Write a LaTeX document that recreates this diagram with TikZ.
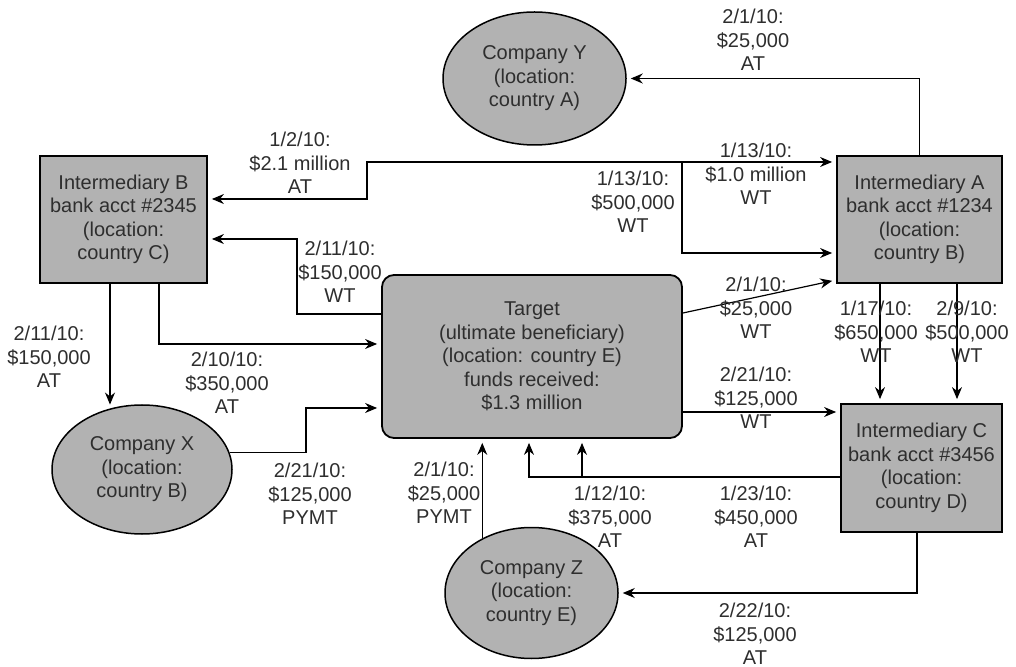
\documentclass[tikz,border=0pt]{standalone}
\usepackage{fontspec}
\setmainfont{Liberation Sans}
\usetikzlibrary{arrows.meta}
\usetikzlibrary{shapes.geometric}

\tikzset{
    >={Stealth[length=6pt, width=5pt]},
    bankbox/.style={draw, fill=black!30, line width=0.9pt, align=center, inner sep=0pt},
    firm/.style={ellipse, draw, fill=black!30, line width=0.75pt, align=center, inner sep=0pt},
    amount/.style={align=center, inner sep=0pt},
    flow/.style={->, shorten >=2pt},
    twoway/.style={<->, shorten >=2pt, shorten <=2pt},
}

\begin{document}
\begin{tikzpicture}[x=0.5pt, y=-0.5pt, line width=0.6pt, font=\fontsize{10}{11.75}\selectfont, text=black!82]

    \useasboundingbox (0,0) rectangle (1016,667);

    % Draw accounts
    \node [bankbox, minimum width=83.5pt, minimum height=63.5pt] (intB) at (123.5,219.5) {Intermediary B\\bank acct \#2345\\(location:\\country C)};
    \node [bankbox, minimum width=82.5pt, minimum height=63.5pt] (intA) at (919.5,219.5) {Intermediary A\\bank acct \#1234\\(location:\\country B)};
    \node [bankbox, minimum width=80.5pt, minimum height=64pt] (intC) at (921.5,468) {Intermediary C\\bank acct \#3456\\(location:\\country D)};
    \node [bankbox, rounded corners=6pt, minimum width=150pt, minimum height=81.5pt] (target) at (532,356.5) {Target\\(ultimate beneficiary)\\(location: country E)\\funds received:\\\$1.3 million};

    % Draw companies
    \node [firm, minimum width=91.5pt, minimum height=66.5pt] (compY) at (534.5,78.5) {Company Y\\(location:\\country A)};
    \node [firm, minimum width=90pt, minimum height=64.5pt] (compX) at (142,469.5) {Company X\\(location:\\country B)};
    \node [firm, minimum width=86.5pt, minimum height=65.5pt] (compZ) at (531.5,593) {Company Z\\(location:\\country E)};

    % Draw bend points
    \coordinate (kinkB) at (367,199);
    \coordinate (kinkA) at (367,162);
    \coordinate (splitA) at (682,162);
    \coordinate (kinkT) at (297,239);
    \coordinate (kinkX) at (306,408);
    \coordinate (bOut1) at ([xshift=-6.75pt]intB.south);
    \coordinate (bOut2) at ([xshift=17.75pt]intB.south);
    \coordinate (aOut1) at ([xshift=-19.75pt]intA.south);
    \coordinate (aOut2) at ([xshift=18.75pt]intA.south);
    \coordinate (tOut1) at ([yshift=21.25pt]target.west);
    \coordinate (tOut2) at ([yshift=21.75pt]target.east);
    \coordinate (tOut3) at ([yshift=-27.75pt]target.east);
    \coordinate (tIn1) at ([xshift=-1.5pt]target.south);
    \coordinate (tIn2) at ([xshift=25pt]target.south);
    \coordinate (cOut1) at ([yshift=-4.5pt]intC.west);
    \coordinate (cOut2) at ([xshift=-2.25pt]intC.south);

    % Draw transfers
    \draw [flow] (intA.north) |- (compY.east);
    \draw [twoway] (intB.east |- kinkB) -- (kinkB) -- (kinkA) -- (intA.west |- kinkA);
    \draw [flow] (splitA) |- ([yshift=-16.75pt]intA.west);
    \draw [flow] (tOut1) -| (kinkT) -- (intB.east |- kinkT);
    \draw [flow] (bOut1) -- (bOut1 |- compX.118);
    \draw [flow] (bOut2) |- ([yshift=6.25pt]target.west);
    \draw [flow] (compX.11) -| (kinkX) -- (target.west |- kinkX);
    \draw [flow] (tOut2) -- ([yshift=-30.25pt]intA.west);
    \draw [flow] (tOut3) -- (intC.west |- tOut3);
    \draw [flow] (aOut1) -- (aOut1 |- intC.north);
    \draw [flow] (aOut2) -- (aOut2 |- intC.north);
    \draw [flow] (cOut1) -| (tIn1);
    \draw [flow] (tIn2 |- cOut1) -- (tIn2);
    \draw [flow] (cOut2) |- (compZ.east);
    \draw [flow] (compZ.132) -- (compZ.132 |- target.south);

    % Draw amounts
    \node [amount] (lblY) at (753,40) {2/1/10:\\\$25,000\\AT};
    \node [amount] (lblB1) at (300,163) {1/2/10:\\\$2.1 million\\AT};
    \node [amount] (lblA1) at (756,174) {1/13/10:\\\$1.0 million\\WT};
    \node [amount] (lblA2) at (633,202) {1/13/10:\\\$500,000\\WT};
    \node [amount] (lblB2) at (340,272) {2/11/10:\\\$150,000\\WT};
    \node [amount] (lblA3) at (756,308) {2/1/10:\\\$25,000\\WT};
    \node [amount] (lblC1) at (876,332) {1/17/10:\\\$650,000\\WT};
    \node [amount] (lblC2) at (967,332) {2/9/10:\\\$500,000\\WT};
    \node [amount] (lblX) at (49,357) {2/11/10:\\\$150,000\\AT};
    \node [amount] (lblT1) at (227,383) {2/10/10:\\\$350,000\\AT};
    \node [amount] (lblC3) at (756,398) {2/21/10:\\\$125,000\\WT};
    \node [amount] (lblT2) at (310,494) {2/21/10:\\\$125,000\\PYMT};
    \node [amount] (lblT3) at (444,493) {2/1/10:\\\$25,000\\PYMT};
    \node [amount] (lblT4) at (610,517) {1/12/10:\\\$375,000\\AT};
    \node [amount] (lblT5) at (756,517) {1/23/10:\\\$450,000\\AT};
    \node [amount] (lblZ) at (755,634) {2/22/10:\\\$125,000\\AT};

\end{tikzpicture}
\end{document}
